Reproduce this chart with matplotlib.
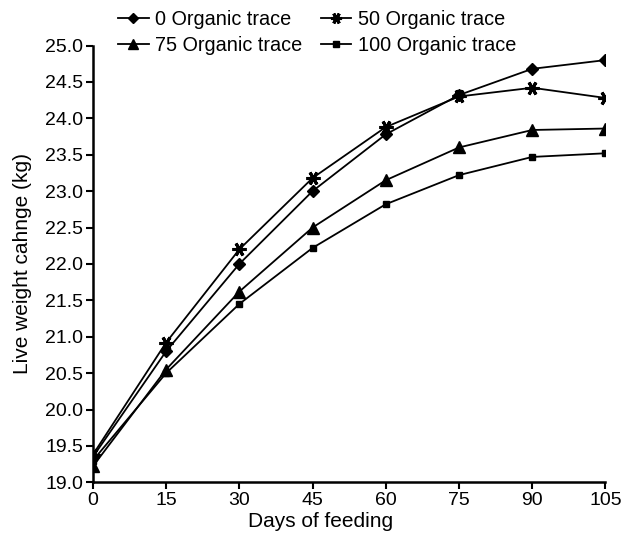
import matplotlib
matplotlib.use('Agg')
import matplotlib.pyplot as plt

plt.rcParams['font.family'] = ['Liberation Sans', 'DejaVu Sans']

days = [0, 15, 30, 45, 60, 75, 90, 105]
trace_0 = [19.35, 20.80, 22.00, 23.00, 23.78, 24.32, 24.68, 24.80]
trace_50 = [19.38, 20.92, 22.20, 23.18, 23.88, 24.30, 24.42, 24.28]
trace_75 = [19.22, 20.55, 21.62, 22.50, 23.15, 23.60, 23.84, 23.86]
trace_100 = [19.30, 20.50, 21.45, 22.22, 22.82, 23.22, 23.47, 23.52]

fig = plt.figure(figsize=(6.36, 5.42), dpi=100)
ax = fig.add_axes([0.146, 0.110, 0.806, 0.806])

kw = dict(color='black', linewidth=1.3)
ax.plot(days, trace_0, marker='D', markersize=6, label='0 Organic trace', **kw)
ax.plot(days, trace_50, marker=(6, 2, 90), markersize=10, markeredgewidth=2.2, label='50 Organic trace', **kw)
ax.plot(days, trace_75, marker='^', markersize=9, label='75 Organic trace', **kw)
ax.plot(days, trace_100, marker='s', markersize=5, label='100 Organic trace', **kw)

ax.set_xlim(0, 105)
ax.set_ylim(19.0, 25.0)
ax.set_xticks(days)
ax.set_yticks([19.0 + 0.5 * i for i in range(13)])
ax.yaxis.set_major_formatter(matplotlib.ticker.FormatStrFormatter('%.1f'))
ax.spines['top'].set_visible(False)
ax.spines['right'].set_visible(False)
ax.spines['left'].set_linewidth(1.8)
ax.spines['bottom'].set_linewidth(1.8)
ax.tick_params(width=1.5, length=5, labelsize=14, pad=2)
ax.set_xlabel('Days of feeding', fontsize=15)
ax.set_ylabel('Live weight cahnge (kg)', fontsize=15)
# the x label in the original sits left of the axis centre
ax.xaxis.set_label_coords(0.445, -0.068)
ax.yaxis.set_label_coords(-0.118, 0.5)

handles, labels = ax.get_legend_handles_labels()
order = [0, 2, 1, 3]
fig.legend([handles[i] for i in order], [labels[i] for i in order], ncol=2,
           loc='upper left', bbox_to_anchor=(0.157, 1.015), frameon=False,
           fontsize=14.3, handlelength=1.55, handletextpad=0.35, columnspacing=0.9,
           labelspacing=0.35, markerscale=0.8)

fig.savefig('out.png', dpi=100)
